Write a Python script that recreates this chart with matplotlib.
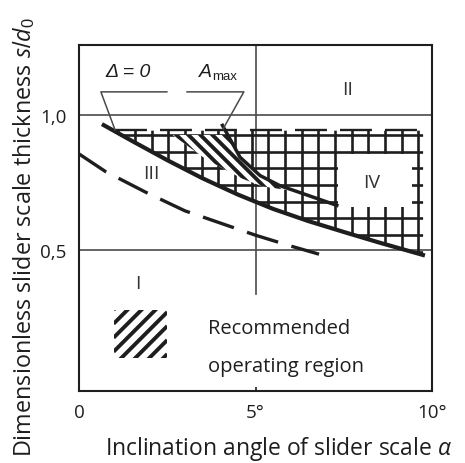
import numpy as np
import matplotlib
matplotlib.use("Agg")
import matplotlib.pyplot as plt
from matplotlib.patches import Polygon, Rectangle
from matplotlib.collections import LineCollection

plt.rcParams['font.family'] = ['Open Sans', 'DejaVu Sans']
plt.rcParams['mathtext.fontset'] = 'custom'
plt.rcParams['mathtext.rm'] = 'Liberation Sans'
plt.rcParams['mathtext.it'] = 'Open Sans:italic'
plt.rcParams['lines.scale_dashes'] = False

# --- curves (x = inclination angle in degrees, y = s/d0) ---
delta0_x = [0.65, 1.5, 2.5, 3.5, 4.5, 5.5, 6.5, 7.5, 8.5, 9.8]
delta0_y = [0.965, 0.903, 0.832, 0.765, 0.705, 0.652, 0.607, 0.567, 0.528, 0.480]

dashed_x = [0.0, 0.75, 1.9, 3.0, 4.0, 5.0, 6.0, 6.8]
dashed_y = [0.855, 0.79, 0.713, 0.645, 0.60, 0.555, 0.515, 0.485]

amax_x = [4.04, 4.33, 4.56, 5.13, 5.69, 6.2, 7.35]
amax_y = [0.966, 0.898, 0.843, 0.775, 0.738, 0.715, 0.663]

# lower edge of the recommended (hatched) region
rec_low_x = [2.65, 3.6, 4.6, 5.2, 6.1]
rec_low_y = [0.925, 0.835, 0.765, 0.735, 0.718]
rec_top = 0.925

# limits of the gridded zone
grid_top = 0.925
grid_fence = 0.942
grid_right = 9.75
grid_x0 = 5.363        # one vertical grid line position
hole_x = [7.35, 9.42]  # zone IV
hole_y = [0.659, 0.855]

# bracket annotations
delta_bracket_x = [2.49, 0.62, 1.02]
delta_bracket_y = [1.084, 1.084, 0.944]
amax_bracket_x = [3.06, 4.67, 4.08]
amax_bracket_y = [1.084, 1.084, 0.947]

# reference lines
ref_h = [0.5, 1.0]
ref_v = 5.0
ref_v_bottom = 0.338

# zone labels
zone_labels = ['I', 'II', 'III', 'IV']
zone_x = [1.67, 7.6, 2.05, 8.3]
zone_y = [0.379, 1.093, 0.783, 0.752]

# legend swatch
swatch_x = [0.98, 2.5]
swatch_y = [0.10, 0.28]

xticks = [0, 5, 10]
xticklabels = ['0', '5°', '10°']
yticks = [0.5, 1.0]
yticklabels = ['0,5', '1,0']

INK = '#1e1e1e'
GREY = '#4a4a4a'

fig = plt.figure(figsize=(4.65, 4.64), dpi=100)
W, H = 465, 464
ax = fig.add_axes([79 / W, (H - 392) / H, (432 - 79) / W, (392 - 46) / H])
ax.set_xlim(0, 10)
ax.set_ylim(-0.02, 1.257)

sx = ax.transData.transform((1, 0))[0] - ax.transData.transform((0, 0))[0]
sy = ax.transData.transform((0, 1))[1] - ax.transData.transform((0, 0))[1]


def stripes(bounds, step_px, rising):
    """45-degree (in pixels) stripe segments covering a box given in data units."""
    x0, x1, y0, y1 = bounds
    sgn = 1 if rising else -1
    corners = [x * sx - sgn * y * sy for x in (x0, x1) for y in (y0, y1)]
    segs = []
    c = min(corners) - step_px
    while c < max(corners) + step_px:
        ya = (x0 * sx - c) / (sgn * sy)
        yb = (x1 * sx - c) / (sgn * sy)
        segs.append([(x0, ya), (x1, yb)])
        c += step_px
    return segs


# reference lines
for yv in ref_h:
    ax.axhline(yv, color=GREY, lw=1.2, zorder=1)
ax.plot([ref_v, ref_v], [ref_v_bottom, 1.257], color=GREY, lw=1.2, zorder=1)

# gridded zone bounded by the delta=0 curve
xs = np.linspace(delta0_x[0], grid_right, 200)
cy = np.interp(xs, delta0_x, delta0_y)
keep = cy <= grid_fence
x_start = np.interp(grid_fence, delta0_y[::-1], delta0_x[::-1])
clip_pts = [(x_start, grid_fence)] + list(zip(xs[keep], cy[keep])) + [(grid_right, cy[-1]), (grid_right, grid_fence)]
clip_poly = Polygon(clip_pts, closed=True, facecolor='none', edgecolor='none', transform=ax.transData)
ax.add_patch(clip_poly)

dx = 16.67 / sx
dy = 16.67 / sy
vx = grid_x0 + dx * np.arange(-12, 12)
vx = vx[(vx > 0) & (vx < grid_right)]
hy = grid_top - dy * np.arange(0, 12)
segs = [[(x, 0.3), (x, grid_fence)] for x in vx] + [[(0.5, y), (grid_right, y)] for y in hy]
grid_lc = LineCollection(segs, colors=INK, linewidths=1.9, zorder=2)
ax.add_collection(grid_lc)
grid_lc.set_clip_path(clip_poly)

# dashed fence along the top of the gridded zone
ax.plot([1.02, 9.66], [grid_fence, grid_fence], color=INK, lw=1.7, dashes=(23, 9.4), zorder=2)

# zone IV opening
ax.add_patch(Rectangle((hole_x[0], hole_y[0]), hole_x[1] - hole_x[0], hole_y[1] - hole_y[0],
                       facecolor='white', edgecolor='none', zorder=3))

# recommended operating region
x_cross = np.interp(-rec_top, [-v for v in amax_y], amax_x)
ax_pts = [(x, y) for x, y in zip(amax_x, amax_y) if x > x_cross and x < rec_low_x[-1]]
tip_y = np.interp(rec_low_x[-1], amax_x, amax_y)
rec_pts = ([(rec_low_x[0], rec_top), (x_cross, rec_top)] + ax_pts +
           [(rec_low_x[-1], tip_y)] + list(zip(rec_low_x[::-1], rec_low_y[::-1])))
rec_poly = Polygon(rec_pts, closed=True, facecolor='white', edgecolor='none', zorder=3)
ax.add_patch(rec_poly)
rx = [p[0] for p in rec_pts]
ry = [p[1] for p in rec_pts]
rec_lc = LineCollection(stripes((min(rx), max(rx), min(ry), max(ry)), 12, False),
                        colors=INK, linewidths=2.8, zorder=4)
ax.add_collection(rec_lc)
rec_lc.set_clip_path(rec_poly)

# curves
ax.plot(delta0_x, delta0_y, color=INK, lw=3.0, solid_capstyle='butt', zorder=5)
ax.plot(amax_x, amax_y, color=INK, lw=2.5, solid_capstyle='butt', zorder=5)
ax.plot(dashed_x, dashed_y, color=INK, lw=2.4, dashes=(23.5, 10), zorder=5)

# brackets
ax.plot(delta_bracket_x, delta_bracket_y, color=GREY, lw=1.1, zorder=5)
ax.plot(amax_bracket_x, amax_bracket_y, color=GREY, lw=1.1, zorder=5)
ax.text(1.39, 1.158, 'Δ = 0', family='Liberation Sans', style='italic', fontsize=14,
        color=INK, ha='center', va='center')
ax.text(3.77, 1.158, 'A', family='Liberation Sans', style='italic', fontsize=14,
        color=INK, ha='right', va='center')
ax.text(3.77, 1.142, 'max', family='Liberation Sans', fontsize=9.5,
        color=INK, ha='left', va='center')

# zone labels
for lab, x, y in zip(zone_labels, zone_x, zone_y):
    ax.text(x, y, lab, fontsize=14, color='#333333', ha='center', va='center', zorder=6)

# legend swatch
sw = Rectangle((swatch_x[0], swatch_y[0]), swatch_x[1] - swatch_x[0], swatch_y[1] - swatch_y[0],
               facecolor='none', edgecolor='none')
ax.add_patch(sw)
sw_lc = LineCollection(stripes((swatch_x[0], swatch_x[1], swatch_y[0], swatch_y[1]), 14, True),
                       colors=INK, linewidths=2.8, zorder=4)
ax.add_collection(sw_lc)
sw_lc.set_clip_path(sw)
ax.text(3.65, 0.194, 'Recommended', fontsize=14.5, color=INK, ha='left', va='baseline')
ax.text(3.65, 0.054, 'operating region', fontsize=14.5, color=INK, ha='left', va='baseline')

# axes styling
for s in ax.spines.values():
    s.set_linewidth(1.5)
    s.set_color(INK)
ax.set_xticks(xticks)
ax.set_xticklabels(xticklabels)
ax.set_yticks(yticks)
ax.set_yticklabels(yticklabels)
ax.tick_params(axis='x', direction='in', length=3, width=1.2, color=INK, labelsize=13.5,
               labelcolor=INK, pad=9)
ax.tick_params(axis='y', length=0, labelsize=13.5, labelcolor=INK, pad=9)

fig.text(279 / W, 1 - 449 / H, r'Inclination angle of slider scale $\alpha$', fontsize=16.5,
         color=INK, ha='center', va='center')
fig.text(24 / W, 1 - 237 / H, r'Dimensionless slider scale thickness $s/d_0$', fontsize=16.8,
         color=INK, ha='center', va='center', rotation=90)

fig.savefig('out.png', dpi=100)
